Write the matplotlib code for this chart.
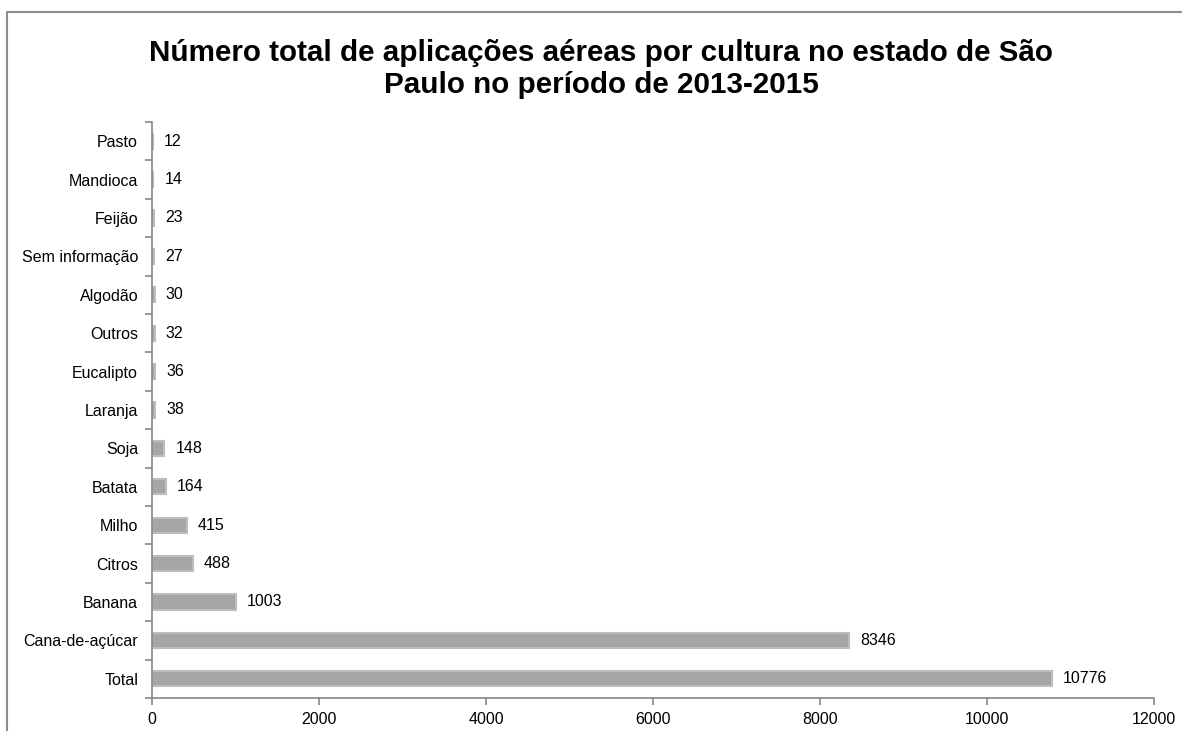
import matplotlib.pyplot as plt
import numpy as np
from matplotlib.lines import Line2D

plt.rcParams['font.family'] = ['Liberation Sans', 'DejaVu Sans']

# culturas de cima para baixo
culturas = ['Pasto', 'Mandioca', 'Feijão', 'Sem informação', 'Algodão', 'Outros',
            'Eucalipto', 'Laranja', 'Soja', 'Batata', 'Milho', 'Citros', 'Banana',
            'Cana-de-açúcar', 'Total']
aplicacoes = [12, 14, 23, 27, 30, 32, 36, 38, 148, 164, 415, 488, 1003, 8346, 10776]
xticks = [0, 2000, 4000, 6000, 8000, 10000, 12000]

titulo = 'Número total de aplicações aéreas por cultura no estado de São\nPaulo no período de 2013-2015'

eixo_cor = '#868686'
fs = 11.5

fig = plt.figure(figsize=(11.82, 7.31), dpi=100)
ax = fig.add_axes([152 / 1182, 1 - 698 / 731, (1154 - 152) / 1182, (698 - 122) / 731])

n = len(culturas)
pos = np.arange(n)[::-1]
ax.barh(pos, aplicacoes, height=0.4, color='#a6a6a6', edgecolor='#bdbdbd', linewidth=1.5)

for p, v in zip(pos, aplicacoes):
    ax.annotate(str(v), (v, p), xytext=(8, 0), textcoords='offset points',
                va='center', ha='left', fontsize=fs)

ax.set_ylim(-0.5, n - 0.5)
ax.set_xlim(0, 12000)
ax.set_yticks(pos)
ax.set_yticklabels(culturas, fontsize=fs)
ax.set_yticks(np.arange(-0.5, n), minor=True)
ax.tick_params(axis='y', which='major', length=0, pad=10)
ax.tick_params(axis='y', which='minor', length=5, color=eixo_cor, width=1.2)
ax.set_xticks(xticks)
ax.set_xticklabels([str(t) for t in xticks], fontsize=fs)
ax.tick_params(axis='x', length=5, color=eixo_cor, width=1.2, pad=5)

for s in ['top', 'right']:
    ax.spines[s].set_visible(False)
for s in ['left', 'bottom']:
    ax.spines[s].set_color(eixo_cor)
    ax.spines[s].set_linewidth(1.2)

fig.text(601 / 1182, 1 - 69 / 731, titulo, ha='center', va='center',
         fontsize=21.3, fontweight='bold', linespacing=1.22)

# moldura da area do grafico
fig.add_artist(Line2D([7 / 1182, 7 / 1182, 1.0], [0, 1 - 12 / 731, 1 - 12 / 731],
                      transform=fig.transFigure, color='#8c8c8c', linewidth=1.5))

fig.savefig('out.png', dpi=100)
